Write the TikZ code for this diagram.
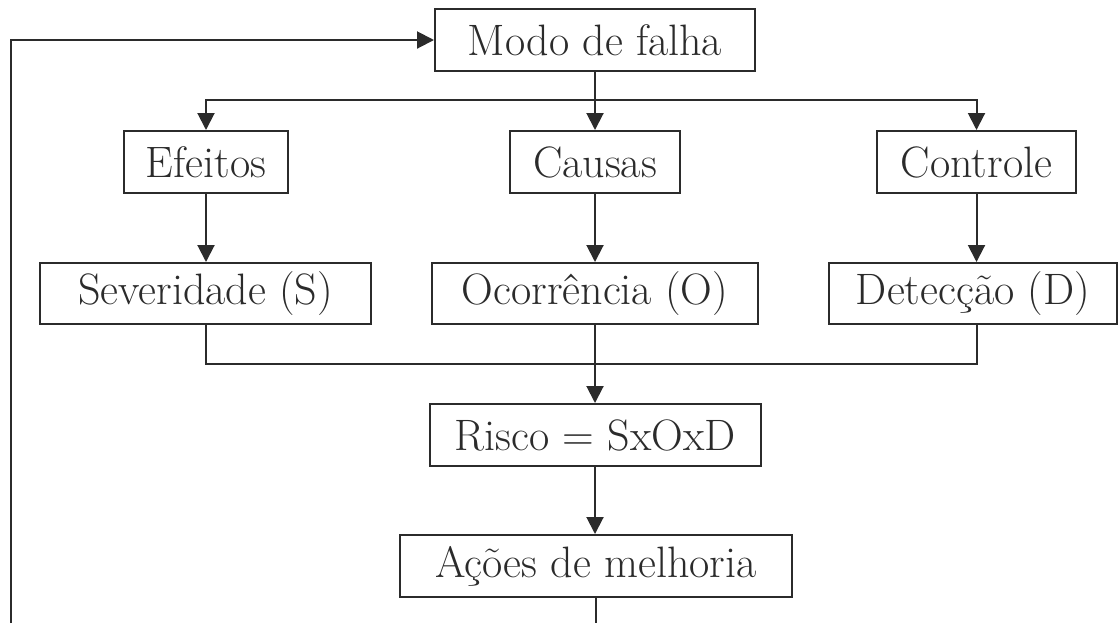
\documentclass[tikz,border=0pt]{standalone}
\usetikzlibrary{arrows.meta}
\definecolor{ink}{HTML}{2B2B2B}
\begin{document}
\begin{tikzpicture}[x=0.5pt,y=-0.5pt,
  line width=1pt, draw=ink,
  box/.style={draw=ink, line width=1pt, rectangle, inner sep=0pt, minimum height=31pt,
    text=ink, font=\fontsize{22}{26}\selectfont},
  arr/.style={-{Triangle[length=8.5pt,width=8.5pt]}, draw=ink},
  ln/.style={draw=ink}]
\useasboundingbox (0,0) rectangle (1118,623);
\node[box, minimum width=160pt] (modo) at (595,40) {Modo de falha};
\node[box, minimum width=82pt] (efe) at (206,162) {Efeitos};
\node[box, minimum width=85pt] (cau) at (595,162) {Causas};
\node[box, minimum width=99.5pt] (con) at (976.5,162) {Controle};
\node[box, minimum width=165.5pt, minimum height=30.5pt] (sev) at (205.5,293.5) {Severidade (S)};
\node[box, minimum width=163pt, minimum height=30.5pt] (oco) at (595,293.5) {Ocorrência (O)};
\node[box, minimum width=144pt, minimum height=30.5pt] (det) at (973,293.5) {Detecção (D)};
\node[box, minimum width=165.5pt] (risco) at (595,435) {Risco = SxOxD};
\node[box, minimum width=196pt] (acoes) at (596,566) {Ações de melhoria};
\coordinate (b1) at (595,100);
\coordinate (b2) at (595,364);
\coordinate (fbR) at (596,623);
\coordinate (fbL) at (11,623);
% top distribution
\draw[arr] (modo.south) -- (cau.north);
\draw[arr] (b1) -| (efe.north);
\draw[arr] (b1) -| (con.north);
% row1 to row2
\draw[arr] (efe.south) -- (efe.south |- sev.north);
\draw[arr] (cau.south) -- (oco.north);
\draw[arr] (con.south) -- (con.south |- det.north);
% collect
\draw[ln] (sev.south -| efe.south) |- (b2);
\draw[ln] (det.south -| con.south) |- (b2);
\draw[arr] (oco.south) -- (risco.north);
\draw[arr] (risco.south) -- (risco.south |- acoes.north);
% feedback
\draw[ln] (acoes.south) -- (fbR);
\draw[arr] (fbL) |- (modo.west);
\end{tikzpicture}
\end{document}
